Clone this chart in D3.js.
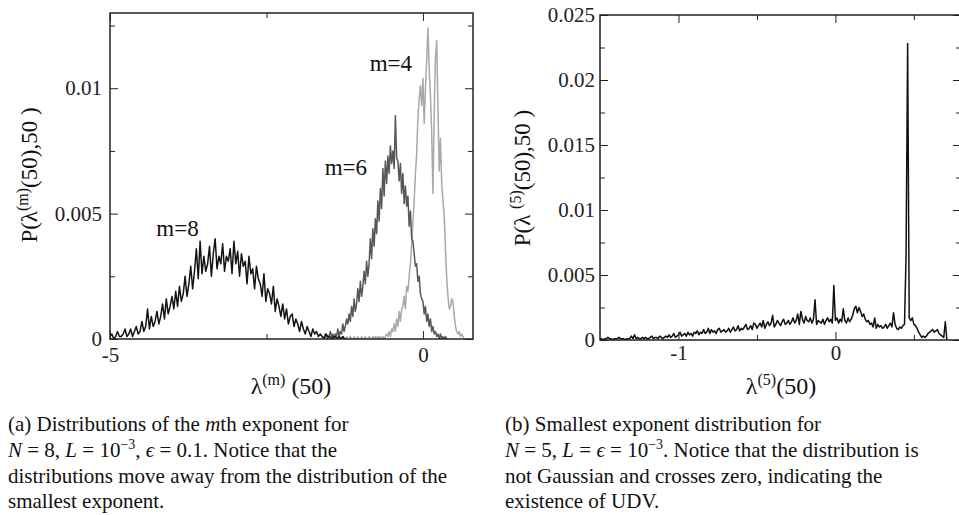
<!DOCTYPE html>
<html>
<head>
<meta charset="utf-8">
<script src="https://cdnjs.cloudflare.com/ajax/libs/d3/7.8.5/d3.min.js"></script>
<style>
  body { margin: 0; background: #fff; }
  svg { font-family: "Liberation Serif", "Times New Roman", serif; }
  text { white-space: pre; }
</style>
</head>
<body>
<script>
// ---- data, values (units of 1e-4), histogram bins ----
// (a) left panel, x = lambda^(m)(50)
var m8Start = -5.0, m8Step = 0.03;
var m8Values = [
  1,2,0,1,3,1,1,2,4,1,
  2,4,1,3,5,2,3,7,3,5,
  12,4,9,5,7,11,6,9,14,8,
  16,10,13,17,12,19,13,21,15,18,
  25,17,22,29,20,27,36,24,39,26,
  33,27,30,37,25,34,40,28,33,30,
  38,27,33,31,36,26,39,30,35,25,
  34,29,31,22,33,26,28,20,29,24,
  22,17,26,15,20,18,14,21,11,16,
  13,9,14,8,12,6,9,10,5,8,
  6,3,7,4,2,5,3,1,4,2,
  3,1,2,1,0,2,1,1,0,1,
  1,0,1,0,1,0,0
];
var m6Start = -1.6, m6Step = 0.02;
var m6Values = [
  1,0,2,1,0,1,3,1,2,0,
  2,1,4,1,3,2,6,3,5,8,
  6,10,7,13,9,16,11,14,20,15,
  23,17,21,27,22,31,25,30,40,32,
  44,37,48,42,55,47,60,52,68,57,
  71,62,73,66,77,70,75,68,89,72,
  71,63,70,58,66,54,61,53,57,45,
  51,40,39,34,29,30,23,25,18,16,
  15,10,13,7,10,5,8,3,5,2,
  3,1,2,0,2,0,1,0,1,0,0
];
var m4Start = -1.3, m4Step = 0.02;
var m4Values = [
  0,1,0,0,1,0,0,1,0,0,
  1,0,0,1,0,0,1,0,0,1,
  0,0,1,0,0,1,0,1,0,1,
  0,1,0,1,0,
  1,2,1,3,1,4,3,6,3,8,
  5,11,7,12,13,17,12,21,19,25,
  30,38,47,55,66,74,88,96,101,93,
  104,86,100,111,124,108,97,82,58,90,
  112,119,92,67,80,62,55,49,36,24,
  17,12,13,16,15,9,5,3,2,3,
  1,2,1,0
];
var leftLabels = ["m=4", "m=6", "m=8"];
var leftXMajor = [-5, 0], leftXMinor = [-2.5];
var leftYMajor = [0, 0.005, 0.01], leftYMinor = [0.0025, 0.0075, 0.0125];

// (b) right panel, x = lambda^(5)(50)
var m5Start = -1.5, m5Step = 0.01;
var m5Values = [
  1,1,0,1,1,2,1,1,0,1,1,1,2,1,1,1,0,1,1,1,3,
  1,4,1,2,1,1,2,1,2,1,1,2,3,1,2,2,1,3,2,1,
  2,3,2,4,2,3,5,2,3,4,6,3,4,5,3,6,4,5,3,6,
  5,7,4,6,5,8,5,6,9,5,8,6,7,5,8,9,6,7,8,6,
  7,9,6,8,10,7,8,11,7,9,8,10,12,8,9,11,8,13,12,9,
  11,13,10,15,9,12,14,11,13,19,10,12,15,13,11,14,16,12,13,15,
  12,14,17,13,15,20,12,22,16,13,18,15,14,17,13,16,31,12,15,14,
  13,16,12,15,17,14,16,13,42,15,17,13,16,14,24,15,13,17,14,16,
  19,24,26,21,25,22,18,20,16,14,15,12,13,10,17,9,12,10,11,9,
  10,12,9,11,13,10,21,12,9,8,10,9,11,12,65,228,17,15,17,12,
  11,9,6,4,2,3,2,3,5,6,7,8,6,7,8,5,4,3,2,14,0
];
var rightXMajor = [-1, 0], rightXMinor = [-0.5, 0.5];
var rightYMajor = [0, 0.005, 0.01, 0.015, 0.02, 0.025];
var rightYMinor = [0.0025, 0.0075, 0.0125, 0.0175, 0.0225];

var captionA = [
  [["(a) Distributions of the ", ""], ["m", "i"], ["th exponent for", ""]],
  [["N", "i"], [" = 8, ", ""], ["L", "i"], [" = 10", ""], ["−3", "s"], [", ", ""], ["ϵ", "i"], [" = 0.1. Notice that the", ""]],
  [["distributions move away from the distribution of the", ""]],
  [["smallest exponent.", ""]]
];
var captionB = [
  [["(b) Smallest exponent distribution for", ""]],
  [["N", "i"], [" = 5, ", ""], ["L", "i"], [" = ", ""], ["ϵ", "i"], [" = 10", ""], ["−3", "s"], [". Notice that the distribution is", ""]],
  [["not Gaussian and crosses zero, indicating the", ""]],
  [["existence of UDV.", ""]]
];

function makeSeries(start, step, values) {
  return values.map(function(v, i){ return {lam: start + i * step, p: v * 1e-4}; });
}

var svg = d3.select("body").append("svg")
    .attr("width", 959)
    .attr("height", 515);

function drawPanel(opt) {
  var x = d3.scaleLinear().domain(opt.xDomain).range([opt.left, opt.right]);
  var y = d3.scaleLinear().domain(opt.yDomain).range([opt.bottom, opt.top]);
  var g = svg.append("g");

  g.append("clipPath").attr("id", opt.id).append("rect")
    .attr("x", opt.left).attr("y", opt.top)
    .attr("width", opt.right - opt.left).attr("height", opt.bottom - opt.top);

  var line = d3.line()
    .x(function(d){ return x(d.lam); })
    .y(function(d){ return y(d.p); });

  opt.series.forEach(function(s){
    g.append("path")
      .datum(s.data)
      .attr("d", line)
      .attr("fill", "none")
      .attr("stroke", s.color)
      .attr("stroke-width", 1.5)
      .attr("stroke-linejoin", "round")
      .attr("clip-path", "url(#" + opt.id + ")");
  });

  // ticks on all four sides, pointing inward
  function axis(maker, scale, ticks, size, labels, transform) {
    var a = maker(scale).tickValues(ticks).tickSizeInner(-size).tickSizeOuter(0)
      .tickPadding(opt.pad);
    a.tickFormat(labels ? function(d){ return String(d); } : "");
    g.append("g")
      .attr("transform", transform)
      .call(a)
      .attr("font-family", null)
      .attr("font-size", 21)
      .attr("color", "#222")
      .call(function(s){ s.select(".domain").remove(); });
  }
  var tb = "translate(0," + opt.bottom + ")", tt = "translate(0," + opt.top + ")";
  var tl = "translate(" + opt.left + ",0)", tr = "translate(" + opt.right + ",0)";
  axis(d3.axisBottom, x, opt.xMajor, 8, true, tb);
  axis(d3.axisBottom, x, opt.xMinor, 5, false, tb);
  axis(d3.axisTop, x, opt.xMajor, 8, false, tt);
  axis(d3.axisTop, x, opt.xMinor, 5, false, tt);
  axis(d3.axisLeft, y, opt.yMajor, 8, true, tl);
  axis(d3.axisLeft, y, opt.yMinor, 5, false, tl);
  axis(d3.axisRight, y, opt.yMajor, 8, false, tr);
  axis(d3.axisRight, y, opt.yMinor, 5, false, tr);

  g.append("rect")
    .attr("x", opt.left).attr("y", opt.top)
    .attr("width", opt.right - opt.left).attr("height", opt.bottom - opt.top)
    .attr("fill", "none").attr("stroke", "#222").attr("stroke-width", 1.5);

  return {x: x, y: y};
}

var left = drawPanel({
  id: "clipA", left: 110, right: 473, top: 13, bottom: 339, pad: 8,
  xDomain: [-5, 0.8], yDomain: [0, 0.013],
  xMajor: leftXMajor, xMinor: leftXMinor, yMajor: leftYMajor, yMinor: leftYMinor,
  series: [
    {data: makeSeries(m4Start, m4Step, m4Values), color: "#a9a9a9"},
    {data: makeSeries(m6Start, m6Step, m6Values), color: "#585858"},
    {data: makeSeries(m8Start, m8Step, m8Values), color: "#141414"}
  ]
});

drawPanel({
  id: "clipB", left: 600, right: 961, top: 15, bottom: 340, pad: 5,
  xDomain: [-1.5, 0.8], yDomain: [0, 0.025],
  xMajor: rightXMajor, xMinor: rightXMinor, yMajor: rightYMajor, yMinor: rightYMinor,
  series: [
    {data: makeSeries(m5Start, m5Step, m5Values), color: "#111"}
  ]
});

// curve labels, anchored in data units of the left panel
var labelAt = [[-0.85, 0.0107], [-1.57, 0.00655], [-4.26, 0.0041]];
svg.selectAll("text.curve")
  .data(leftLabels)
  .enter()
  .append("text")
  .attr("class", "curve")
  .attr("x", function(d, i){ return left.x(labelAt[i][0]); })
  .attr("y", function(d, i){ return left.y(labelAt[i][1]); })
  .attr("font-size", 23)
  .attr("fill", "#111")
  .text(function(d){ return d; });

// axis titles
function xTitle(cx, sup, rest) {
  var t = svg.append("text").attr("x", cx).attr("y", 394)
    .attr("text-anchor", "middle").attr("font-size", 24).attr("fill", "#111");
  t.append("tspan").text("λ");
  t.append("tspan").attr("font-size", 16).attr("dy", -9).text(sup);
  t.append("tspan").attr("dy", 9).text(rest);
}
xTitle(291, "(m)", " (50)");
xTitle(781, "(5)", "(50)");

function yTitle(bx, cy, pre, sup) {
  var t = svg.append("text")
    .attr("transform", "translate(" + bx + "," + cy + ") rotate(-90)")
    .attr("text-anchor", "middle").attr("font-size", 23).attr("fill", "#111");
  t.append("tspan").text(pre);
  t.append("tspan").attr("font-size", 16).attr("dy", -9).text(sup);
  t.append("tspan").attr("dy", 9).text("(50),50 )");
}
yTitle(37, 175, "P(λ", "(m)");
yTitle(530, 178, "P(λ ", "(5)");

// captions
function caption(x0, lines) {
  lines.forEach(function(parts, li){
    var t = svg.append("text").attr("x", x0).attr("y", 431 + li * 25.8)
      .attr("font-size", 21).attr("fill", "#111");
    var raised = false;
    parts.forEach(function(p){
      var s = t.append("tspan").text(p[0]);
      if (p[1] === "i") s.attr("font-style", "italic");
      if (p[1] === "s") { s.attr("font-size", 14).attr("dy", -8); raised = true; }
      else if (raised) { s.attr("dy", 8); raised = false; }
    });
  });
}
caption(8, captionA);
caption(505, captionB);
</script>
</body>
</html>
